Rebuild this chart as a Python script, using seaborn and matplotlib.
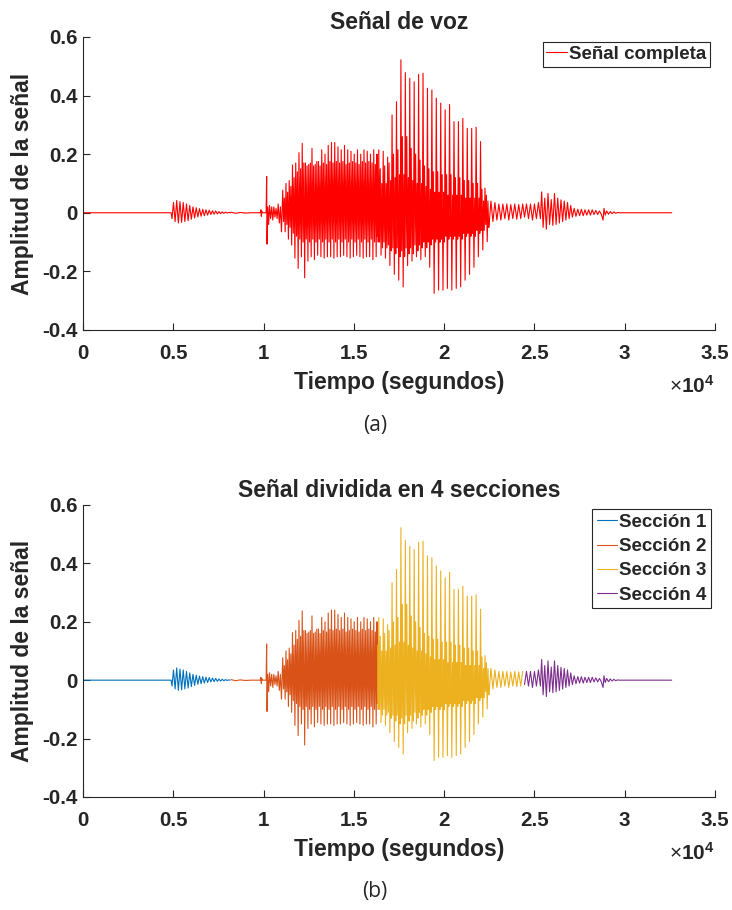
import pandas as pd
import seaborn as sns
import matplotlib.pyplot as plt

sns.set_style("white")
plt.rcParams["font.family"] = ["Liberation Sans", "DejaVu Sans"]
plt.rcParams["axes.unicode_minus"] = False
plt.rcParams["mathtext.fontset"] = "custom"
plt.rcParams["mathtext.rm"] = "Liberation Sans"
plt.rcParams["mathtext.bf"] = "Liberation Sans:bold"

# --- datos (muestra, amplitud) ---
# seccion 1: silencio + primera rafaga
t1 = [0, 4880, 4930, 5010, 5100, 5190, 5280, 5370, 5460, 5550, 5640, 5730, 5820,
      5910, 6000, 6090, 6180, 6270, 6360, 6450, 6540, 6630, 6720, 6810, 6900,
      6990, 7080, 7170, 7260, 7350, 7440, 7530, 7620, 7710, 7800, 7890, 7980,
      8070, 8150]
a1 = [0, 0, -0.02, 0.035, -0.03, 0.042, -0.035, 0.038, -0.033, 0.035, -0.03, 0.03,
      -0.027, 0.025, -0.022, 0.02, -0.018, 0.017, -0.014, 0.014, -0.012, 0.012,
      -0.01, 0.01, -0.008, 0.009, -0.006, 0.007, -0.005, 0.006, -0.004, 0.004,
      -0.003, 0.003, -0.002, 0.002, -0.001, 0.001, 0]

# seccion 2: inicio (chasquido) + tramo sonoro
t2_inicio = [8200, 8450, 8700, 9000, 9300, 9820, 9850, 9875, 9900, 9930, 10140,
             10170, 10190, 10230, 10280, 10330, 10390, 10450, 10510, 10570, 10630,
             10690, 10750, 10810, 10870, 10930, 10990]
a2_inicio = [0.002, -0.002, 0.001, -0.001, 0.0, 0.0, 0.01, -0.012, 0.005, 0.0, 0.0,
             0.124, -0.107, 0.02, -0.04, 0.025, -0.02, 0.02, -0.025, 0.02, -0.015,
             0.015, -0.02, 0.03, -0.035, 0.02, -0.065]

t2_voz = [11060, 11105, 11150, 11195,
          11240, 11285, 11330, 11375,
          11420, 11465, 11510, 11555,
          11600, 11645, 11690, 11735,
          11780, 11825, 11870, 11915,
          11960, 12005, 12050, 12095,
          12140, 12185, 12230, 12275,
          12320, 12365, 12410, 12455,
          12500, 12545, 12590, 12635,
          12680, 12725, 12770, 12815,
          12860, 12905, 12950, 12995,
          13040, 13085, 13130, 13175,
          13220, 13265, 13310, 13355,
          13400, 13445, 13490, 13535,
          13580, 13625, 13670, 13715,
          13760, 13805, 13850, 13895,
          13940, 13985, 14030, 14075,
          14120, 14165, 14210, 14255,
          14300, 14345, 14390, 14435,
          14480, 14525, 14570, 14615,
          14660, 14705, 14750, 14795,
          14840, 14885, 14930, 14975,
          15020, 15065, 15110, 15155,
          15200, 15245, 15290, 15335,
          15380, 15425, 15470, 15515,
          15560, 15605, 15650, 15695,
          15740, 15785, 15830, 15875,
          15920, 15965, 16010, 16055,
          16100, 16145, 16190, 16235,
          16280, 16300]
a2_voz = [0.077, -0.03, 0.05, -0.065,
          0.10, -0.04, 0.07, -0.09,
          0.11, -0.05, 0.09, -0.11,
          0.163, -0.07, 0.12, -0.155,
          0.17, -0.08, 0.14, -0.19,
          0.205, -0.09, 0.15, -0.15,
          0.237, -0.1, 0.17, -0.222,
          0.17, -0.09, 0.16, -0.165,
          0.165, -0.1, 0.17, -0.15,
          0.22, -0.09, 0.16, -0.16,
          0.165, -0.1, 0.175, -0.145,
          0.175, -0.09, 0.16, -0.15,
          0.215, -0.1, 0.17, -0.155,
          0.2, -0.09, 0.165, -0.15,
          0.23, -0.1, 0.175, -0.15,
          0.24, -0.09, 0.17, -0.155,
          0.24, -0.1, 0.175, -0.15,
          0.225, -0.09, 0.17, -0.15,
          0.215, -0.1, 0.175, -0.145,
          0.23, -0.09, 0.165, -0.15,
          0.215, -0.1, 0.17, -0.155,
          0.21, -0.09, 0.175, -0.15,
          0.2, -0.1, 0.17, -0.145,
          0.215, -0.09, 0.165, -0.15,
          0.2, -0.1, 0.175, -0.155,
          0.215, -0.09, 0.17, -0.15,
          0.21, -0.1, 0.175, -0.15,
          0.2, -0.09, 0.17, -0.16,
          0.215, -0.1, 0.165, -0.15,
          0.2, -0.08]

# seccion 3: tramo sonoro fuerte + cola
t3_voz = [16320, 16350,
          16380, 16420, 16460, 16505, 16545, 16585,
          16625, 16665, 16705, 16750, 16790, 16830,
          16870, 16910, 16950, 16995, 17035, 17075,
          17115, 17155, 17195, 17240, 17280, 17320,
          17360, 17400, 17440, 17485, 17525, 17565,
          17605, 17645, 17685, 17730, 17770, 17810,
          17850, 17890, 17930, 17975, 18015, 18055,
          18095, 18135, 18175, 18220, 18260, 18300,
          18340, 18380, 18420, 18465, 18505, 18545,
          18585, 18625, 18665, 18710, 18750, 18790,
          18830, 18870, 18910, 18955, 18995, 19035,
          19075, 19115, 19155, 19200, 19240, 19280,
          19320, 19360, 19400, 19445, 19485, 19525,
          19565, 19605, 19645, 19690, 19730, 19770,
          19810, 19850, 19890, 19935, 19975, 20015,
          20055, 20095, 20135, 20180, 20220, 20260,
          20300, 20340, 20380, 20425, 20465, 20505,
          20545, 20585, 20625, 20670, 20710, 20750,
          20790, 20830, 20870, 20915, 20955, 20995,
          21035, 21075, 21115, 21160, 21200, 21240,
          21280, 21320, 21360, 21405, 21445, 21485,
          21525, 21565, 21605, 21650, 21690, 21730,
          21770, 21810, 21850, 21895, 21935, 21975,
          22015, 22055, 22095, 22140, 22180, 22220,
          22260, 22300, 22340, 22385, 22425, 22465]
a3_voz = [0.12, -0.1,
          0.215, -0.1, 0.15, -0.145, 0.1, -0.12,
          0.21, -0.1, 0.16, -0.155, 0.1, -0.12,
          0.19, -0.11, 0.17, -0.18, 0.11, -0.13,
          0.334, -0.12, 0.2, -0.21, 0.12, -0.14,
          0.379, -0.12, 0.215, -0.23, 0.13, -0.15,
          0.522, -0.13, 0.26, -0.253, 0.13, -0.15,
          0.478, -0.12, 0.26, -0.18, 0.12, -0.14,
          0.459, -0.12, 0.22, -0.165, 0.11, -0.14,
          0.447, -0.11, 0.2, -0.15, 0.1, -0.13,
          0.472, -0.11, 0.18, -0.16, 0.1, -0.12,
          0.476, -0.1, 0.16, -0.15, 0.09, -0.12,
          0.425, -0.1, 0.15, -0.186, 0.08, -0.11,
          0.419, -0.09, 0.14, -0.275, 0.07, -0.1,
          0.391, -0.09, 0.14, -0.264, 0.07, -0.1,
          0.374, -0.09, 0.13, -0.264, 0.07, -0.1,
          0.351, -0.08, 0.13, -0.258, 0.06, -0.09,
          0.369, -0.08, 0.13, -0.264, 0.06, -0.09,
          0.311, -0.08, 0.12, -0.258, 0.06, -0.09,
          0.311, -0.08, 0.12, -0.253, 0.06, -0.09,
          0.322, -0.07, 0.11, -0.23, 0.05, -0.08,
          0.288, -0.07, 0.11, -0.21, 0.05, -0.08,
          0.288, -0.07, 0.1, -0.186, 0.05, -0.08,
          0.292, -0.06, 0.1, -0.15, 0.05, -0.07,
          0.243, -0.06, 0.08, -0.127, 0.04, -0.06,
          0.084, -0.04, 0.06, -0.099, 0.04, -0.05]
t3_cola = [22480, 22590, 22700, 22810, 22920, 23030, 23140, 23250, 23360, 23470,
           23580, 23690, 23800, 23910, 24020, 24130, 24240, 24350]
a3_cola = [-0.05, 0.04, -0.03, 0.035, -0.025, 0.03, -0.025, 0.03, -0.02, 0.03,
           -0.025, 0.028, -0.02, 0.03, -0.022, 0.028, -0.02, 0.03]

# seccion 4: ultima rafaga y silencio final
t4 = [24450, 24560, 24670, 24780, 24890, 25000, 25110, 25220, 25330, 25400, 25480,
      25570, 25660, 25750, 25840, 25930, 26020, 26110, 26200, 26290, 26380, 26470,
      26560, 26650, 26740, 26830, 26920, 27010, 27100, 27200, 27300, 27400, 27500,
      27600, 27700, 27800, 27900, 28000, 28100, 28200, 28300, 28400, 28500, 28600,
      28700, 28800, 28850, 28920, 29000, 29100, 29200, 29300, 29400, 29500, 29600,
      29700, 32600]
a4 = [-0.015, 0.03, -0.02, 0.03, -0.025, 0.03, -0.02, 0.035, -0.02, 0.071, -0.05,
      0.05, -0.056, 0.066, -0.04, 0.045, -0.043, 0.066, -0.04, 0.05, -0.035, 0.044,
      -0.03, 0.04, -0.025, 0.035, -0.02, 0.025, -0.015, 0.015, -0.012, 0.012, -0.01,
      0.012, -0.01, 0.01, -0.008, 0.01, -0.008, 0.01, -0.006, 0.008, -0.006, 0.006,
      -0.005, -0.025, 0.015, -0.008, 0.006, -0.005, 0.004, -0.003, 0.003, -0.002,
      0.001, 0, 0]

secciones = ["Sección 1", "Sección 2", "Sección 3", "Sección 4"]
colores = ["#0072BD", "#D95319", "#EDB120", "#7E2F8E"]

x_ticks = [0, 5000, 10000, 15000, 20000, 25000, 30000, 35000]
x_etiquetas = ["0", "0.5", "1", "1.5", "2", "2.5", "3", "3.5"]
y_ticks = [-0.4, -0.2, 0, 0.2, 0.4, 0.6]
y_etiquetas = ["-0.4", "-0.2", "0", "0.2", "0.4", "0.6"]

partes = [
    (t1, a1, secciones[0]),
    (t2_inicio + t2_voz, a2_inicio + a2_voz, secciones[1]),
    (t3_voz + t3_cola, a3_voz + a3_cola, secciones[2]),
    (t4, a4, secciones[3]),
]
df = pd.concat([pd.DataFrame({"tiempo": t, "amplitud": a, "seccion": s})
                for t, a, s in partes], ignore_index=True)

fig = plt.figure(figsize=(7.32, 9.10), dpi=100)
ax1 = fig.add_axes([0.1134, 0.6374, 0.8634, 0.3220])
ax2 = fig.add_axes([0.1134, 0.1242, 0.8634, 0.3209])

sns.lineplot(data=df, x="tiempo", y="amplitud", color="#FF0000", linewidth=0.8,
             estimator=None, sort=False, ax=ax1, label="Señal completa")
sns.lineplot(data=df, x="tiempo", y="amplitud", hue="seccion", hue_order=secciones,
             palette=colores, linewidth=0.8, estimator=None, sort=False, ax=ax2)

gris = "#262626"


def estilo(ax, titulo):
    ax.set_xlim(0, 35000)
    ax.set_ylim(-0.4, 0.6)
    ax.set_xticks(x_ticks)
    ax.set_xticklabels(x_etiquetas, fontweight="bold")
    ax.set_yticks(y_ticks)
    ax.set_yticklabels(y_etiquetas, fontweight="bold")
    for s in ["top", "right"]:
        ax.spines[s].set_visible(False)
    for s in ["left", "bottom"]:
        ax.spines[s].set_color(gris)
        ax.spines[s].set_linewidth(0.8)
    ax.tick_params(direction="in", length=5, width=0.8, color=gris,
                   labelcolor=gris, labelsize=14.8, left=True, bottom=True)
    ax.tick_params(axis="x", pad=10)
    ax.tick_params(axis="y", pad=4)
    ax.set_title(titulo, fontsize=16.5, fontweight="bold", pad=6)
    ax.set_xlabel("Tiempo (segundos)", fontsize=16.5, fontweight="bold",
                  color=gris, labelpad=6)
    ax.set_ylabel("Amplitud de la señal", fontsize=16.5, fontweight="bold",
                  color=gris, labelpad=6)
    ax.text(1.0, -0.19, r"$\times\mathbf{10^{4}}$", transform=ax.transAxes,
            ha="right", va="center", fontsize=15, color=gris)


estilo(ax1, "Señal de voz")
estilo(ax2, "Señal dividida en 4 secciones")

ley = dict(frameon=True, fancybox=False, framealpha=1, edgecolor=gris,
           prop={"weight": "bold", "size": 13.5}, handlelength=1.1,
           handletextpad=0.1, borderaxespad=0, title=None)
sns.move_legend(ax1, "upper right", bbox_to_anchor=(0.992, 0.983),
                borderpad=0.2, **ley)
sns.move_legend(ax2, "upper right", bbox_to_anchor=(0.994, 0.986),
                borderpad=0.25, labelspacing=0.38, **ley)
for ax in (ax1, ax2):
    ax.get_legend().get_frame().set_linewidth(0.8)

fig.text(375 / 732, 1 - 426 / 910, "(a)", ha="center", va="center",
         fontsize=15, family="Open Sans")
fig.text(375 / 732, 1 - 891 / 910, "(b)", ha="center", va="center",
         fontsize=15, family="Open Sans")

fig.savefig("out.png", dpi=100, facecolor="white")
